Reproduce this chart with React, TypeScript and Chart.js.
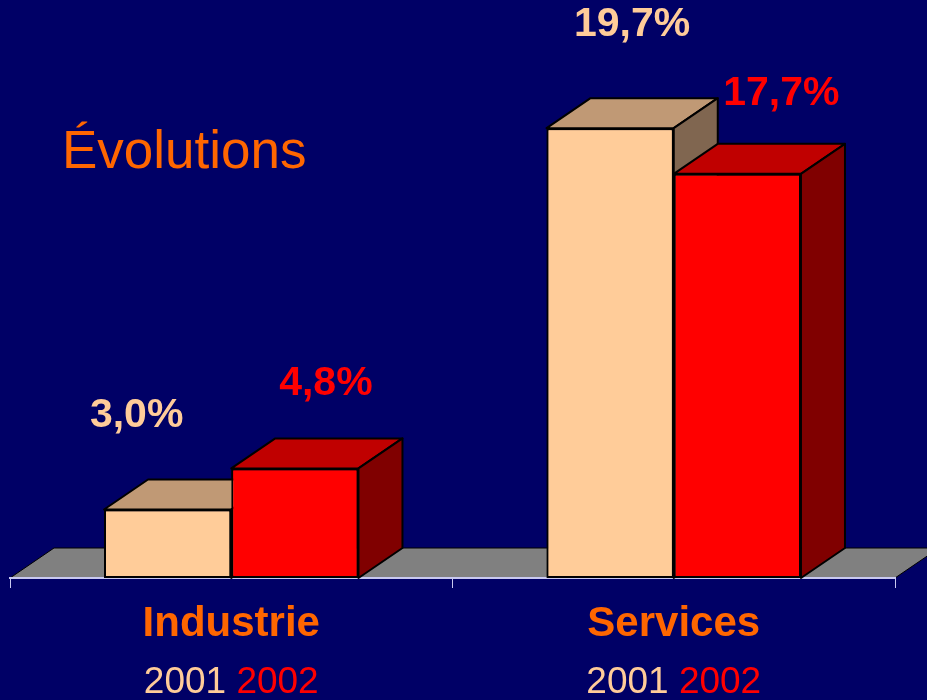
import React, { useEffect, useRef } from "react";
import { Chart, registerables } from "chart.js";

Chart.register(...registerables);

const categories = ["Industrie", "Services"];
const years = ["2001", "2002"];
const values2001 = [3.0, 19.7];
const values2002 = [4.8, 17.7];
const yMax = 24;

const BG = "#000066";
const ORANGE = "#FF6600";
const FACE_COLORS = [
  { front: "#FFCC99", top: "#C09975", side: "#806650" },
  { front: "#FF0000", top: "#C00000", side: "#800000" },
];
// label offsets (dx, dy) from the centre of the front top edge, per dataset, per category
const LABEL_OFFSETS = [
  [[-31, -94], [22, -103]],
  [[31, -85], [44, -80]],
];
const DEPTH_X = 44;
const DEPTH_Y = 30;
const FONT = "'Liberation Sans', Arial, sans-serif";

const fmt = (v: number) => v.toFixed(1).replace(".", ",") + "%";

const threeD = {
  id: "threeD",
  beforeDraw(chart: any) {
    const { ctx, chartArea } = chart;
    const base = chartArea.bottom;
    ctx.save();
    ctx.beginPath();
    ctx.moveTo(chartArea.left, base);
    ctx.lineTo(chartArea.left + DEPTH_X, base - DEPTH_Y);
    ctx.lineTo(chartArea.right + DEPTH_X, base - DEPTH_Y);
    ctx.lineTo(chartArea.right, base);
    ctx.closePath();
    ctx.fillStyle = "#808080";
    ctx.fill();
    ctx.lineWidth = 1;
    ctx.strokeStyle = "#000000";
    ctx.stroke();
    ctx.restore();
  },
  afterDatasetsDraw(chart: any) {
    const { ctx } = chart;
    const n = chart.data.labels.length;
    ctx.save();
    for (let i = 0; i < n; i++) {
      chart.data.datasets.forEach((_ds: any, d: number) => {
        const el = chart.getDatasetMeta(d).data[i];
        if (!el) return;
        el.draw(ctx);
        const { x, y, base, width } = el.getProps(["x", "y", "base", "width"], true);
        const l = x - width / 2;
        const r = x + width / 2;
        const t = y;
        const b = base;
        const c = FACE_COLORS[d];
        ctx.lineWidth = 2;
        ctx.lineJoin = "round";
        ctx.strokeStyle = "#000000";
        // top
        ctx.beginPath();
        ctx.moveTo(l, t);
        ctx.lineTo(l + DEPTH_X, t - DEPTH_Y);
        ctx.lineTo(r + DEPTH_X, t - DEPTH_Y);
        ctx.lineTo(r, t);
        ctx.closePath();
        ctx.fillStyle = c.top;
        ctx.fill();
        ctx.stroke();
        // side
        ctx.beginPath();
        ctx.moveTo(r, t);
        ctx.lineTo(r + DEPTH_X, t - DEPTH_Y);
        ctx.lineTo(r + DEPTH_X, b - DEPTH_Y);
        ctx.lineTo(r, b);
        ctx.closePath();
        ctx.fillStyle = c.side;
        ctx.fill();
        ctx.stroke();
      });
    }
    ctx.restore();
  },
  afterDraw(chart: any) {
    const { ctx, scales } = chart;
    ctx.save();
    // title
    ctx.font = `53px ${FONT}`;
    ctx.fillStyle = ORANGE;
    ctx.textAlign = "left";
    ctx.textBaseline = "alphabetic";
    ctx.fillText("Évolutions", 62, 168);

    // value labels
    ctx.font = `bold 41px ${FONT}`;
    ctx.textAlign = "center";
    ctx.textBaseline = "middle";
    chart.data.datasets.forEach((ds: any, d: number) => {
      const meta = chart.getDatasetMeta(d);
      meta.data.forEach((el: any, i: number) => {
        const [dx, dy] = LABEL_OFFSETS[d][i];
        ctx.fillStyle = FACE_COLORS[d].front;
        ctx.fillText(fmt(ds.data[i]), el.x + dx, el.y + dy);
      });
    });

    // category labels
    const xs = scales.x;
    chart.data.labels.forEach((lab: string, i: number) => {
      const cx = xs.getPixelForValue(i);
      ctx.font = `bold 42px ${FONT}`;
      ctx.fillStyle = ORANGE;
      ctx.textAlign = "center";
      ctx.textBaseline = "middle";
      ctx.fillText(lab, cx, 624);
      ctx.font = `37px ${FONT}`;
      const first = years[0] + " ";
      const w1 = ctx.measureText(first).width;
      const w2 = ctx.measureText(years[1]).width;
      const start = cx - (w1 + w2) / 2;
      ctx.textAlign = "left";
      ctx.fillStyle = FACE_COLORS[0].front;
      ctx.fillText(first, start, 683);
      ctx.fillStyle = FACE_COLORS[1].front;
      ctx.fillText(years[1], start + w1, 683);
    });
    ctx.restore();
  },
};

export default function App() {
  const ref = useRef<HTMLCanvasElement>(null);
  useEffect(() => {
    if (!ref.current) return;
    const chart = new Chart(ref.current, {
      type: "bar",
      data: {
        labels: categories,
        datasets: [
          {
            label: years[0],
            data: values2001,
            backgroundColor: FACE_COLORS[0].front,
            borderColor: "#000000",
            borderWidth: 2,
            borderSkipped: false,
          },
          {
            label: years[1],
            data: values2002,
            backgroundColor: FACE_COLORS[1].front,
            borderColor: "#000000",
            borderWidth: 2,
            borderSkipped: false,
          },
        ],
      },
      options: {
        responsive: false,
        animation: false,
        devicePixelRatio: 1,
        categoryPercentage: 0.575,
        barPercentage: 1,
        layout: { padding: { left: 10, right: 32, top: 30, bottom: 0 } },
        plugins: {
          legend: { display: false },
          tooltip: { enabled: false },
          title: { display: false },
        },
        scales: {
          x: {
            offset: true,
            grid: {
              display: true,
              offset: true,
              drawOnChartArea: false,
              drawTicks: true,
              tickLength: 10,
              color: "#C8C8F0",
              lineWidth: 1,
            },
            border: { display: true, color: "#C8C8F0", width: 2 },
            ticks: { display: false },
            afterFit: (s: any) => {
              s.height = 122;
            },
          },
          y: { display: false, min: 0, max: yMax },
        },
      } as any,
      plugins: [threeD],
    });
    return () => chart.destroy();
  }, []);
  return (
    <div
      style={{
        position: "absolute",
        left: 0,
        top: 0,
        width: 927,
        height: 700,
        background: BG,
      }}
    >
      <canvas ref={ref} width={927} height={700} style={{ width: 927, height: 700 }} />
    </div>
  );
}
